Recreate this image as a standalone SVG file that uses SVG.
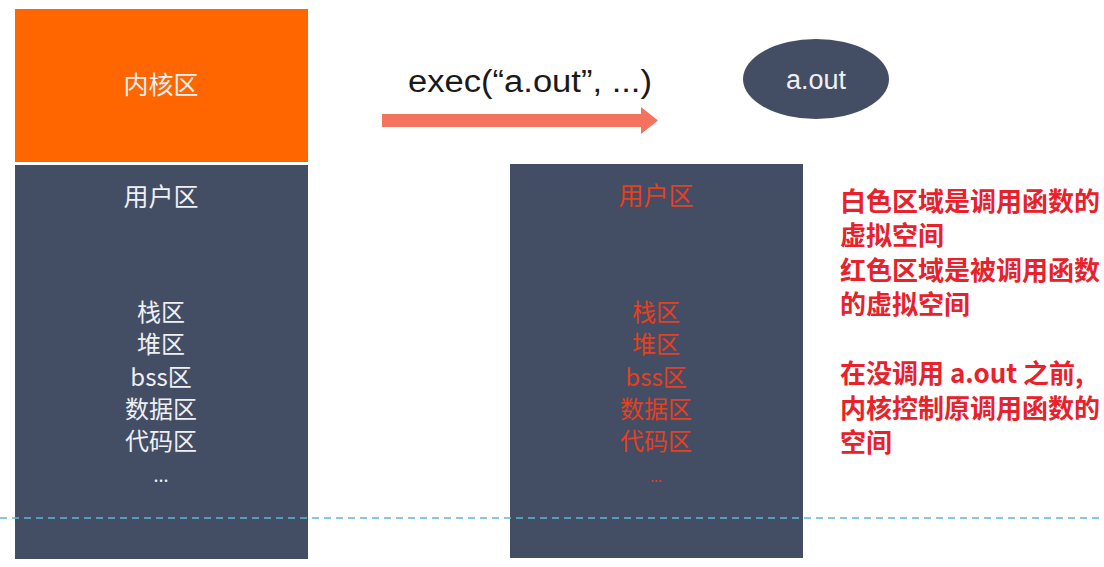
<svg xmlns="http://www.w3.org/2000/svg" width="1104" height="567" viewBox="0 0 1104 567">
<style>
.blk{fill:#434d64}
.wt{font-family:"Noto Sans CJK SC","Liberation Sans",sans-serif;font-size:25px;fill:#eef0f4;text-anchor:middle}
.rt{font-family:"Noto Sans CJK SC","Liberation Sans",sans-serif;font-size:25px;fill:#e5401f;text-anchor:middle}
.st{font-size:24px}
.nt{font-family:"Noto Sans CJK SC","Liberation Sans",sans-serif;font-size:26px;font-weight:bold;fill:#e8212b}
</style>
<rect width="1104" height="567" fill="#ffffff"/>
<g id="kernel">
<rect x="15" y="9" width="293" height="153" fill="#ff6600"/>
<text class="wt" x="161" y="94">内核区</text>
</g>
<g id="left-user">
<rect class="blk" x="15" y="165" width="293" height="394"/>
<text class="wt" x="161" y="206">用户区</text>
<text class="wt st" x="161" y="321">栈区</text>
<text class="wt st" x="161" y="353">堆区</text>
<text class="wt st" x="161" y="386">bss区</text>
<text class="wt st" x="161" y="418">数据区</text>
<text class="wt st" x="161" y="450">代码区</text>
<text class="wt" x="161" y="482" style="font-size:18px">...</text>
</g>
<g id="right-user">
<rect class="blk" x="510" y="164" width="293" height="394"/>
<text class="rt" x="656" y="205">用户区</text>
<text class="rt st" x="656" y="321">栈区</text>
<text class="rt st" x="656" y="353">堆区</text>
<text class="rt st" x="656" y="386">bss区</text>
<text class="rt st" x="656" y="418">数据区</text>
<text class="rt st" x="656" y="450">代码区</text>
<text class="rt" x="656" y="482" style="font-size:14px">...</text>
</g>
<g id="aout">
<ellipse cx="816" cy="79" rx="73" ry="40" fill="#434d64"/>
<text x="816" y="89" text-anchor="middle" font-family="Liberation Sans, sans-serif" font-size="27" fill="#eef0f4">a.out</text>
</g>
<g id="connectors">
<path d="M382,114 L641,114 L641,107 L658,120.5 L641,134 L641,127 L382,127 Z" fill="#f4735f"/>
<text x="408" y="92" font-family="Liberation Sans, sans-serif" font-size="31" fill="#1a1a1a" textLength="244" lengthAdjust="spacingAndGlyphs">exec(“a.out”, ...)</text>
</g>
<g id="note">
<text class="nt" x="840" y="211">白色区域是调用函数的</text>
<text class="nt" x="840" y="245">虚拟空间</text>
<text class="nt" x="840" y="280">红色区域是被调用函数</text>
<text class="nt" x="840" y="314">的虚拟空间</text>
<text class="nt" x="840" y="383">在没调用 a.out 之前,</text>
<text class="nt" x="840" y="418">内核控制原调用函数的</text>
<text class="nt" x="840" y="452">空间</text>
</g>
<line x1="0" y1="518" x2="1104" y2="518" stroke="#5db6dc" stroke-width="1.5" stroke-dasharray="7,5"/>
</svg>
